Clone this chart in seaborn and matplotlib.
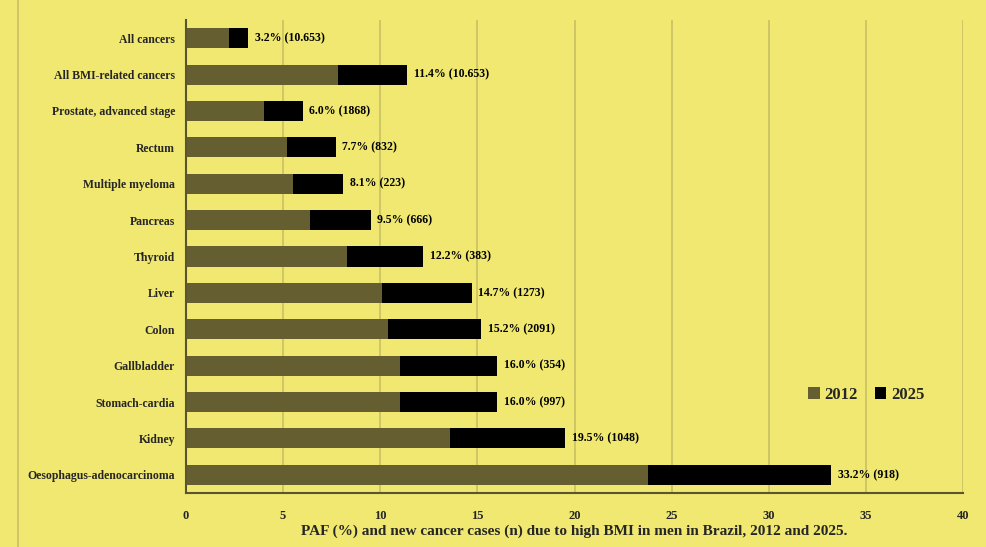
import pandas as pd
import seaborn as sns
import matplotlib.pyplot as plt

# Data
sites = ["All cancers", "All BMI-related cancers", "Prostate, advanced stage", "Rectum",
         "Multiple myeloma", "Pancreas", "Thyroid", "Liver", "Colon", "Gallbladder",
         "Stomach-cardia", "Kidney", "Oesophagus-adenocarcinoma"]
paf_2012 = [2.2, 7.8, 4.0, 5.2, 5.5, 6.4, 8.3, 10.1, 10.4, 11.0, 11.0, 13.6, 23.8]
paf_2025 = [3.2, 11.4, 6.0, 7.7, 8.1, 9.5, 12.2, 14.7, 15.2, 16.0, 16.0, 19.5, 33.2]
labels = ["3.2% (10.653)", "11.4% (10.653)", "6.0% (1868)", "7.7% (832)", "8.1% (223)",
          "9.5% (666)", "12.2% (383)", "14.7% (1273)", "15.2% (2091)", "16.0% (354)",
          "16.0% (997)", "19.5% (1048)", "33.2% (918)"]

df = pd.DataFrame({"site": sites, "y2012": paf_2012, "y2025": paf_2025})

BG = "#f0e870"
OLIVE = "#655e30"
GRID = "#c9c163"

sns.set_style("white")
plt.rcParams['font.family'] = ['Liberation Serif', 'DejaVu Serif']
plt.rcParams['font.weight'] = 'bold'

fig = plt.figure(figsize=(9.86, 5.47), dpi=100, facecolor=BG)
ax = fig.add_axes([186 / 986, 1 - 493 / 547, (963 - 186) / 986, (493 - 20) / 547])
ax.set_facecolor(BG)

sns.barplot(data=df, y="site", x="y2025", color="black", width=0.55,
            saturation=1, ax=ax, label="2025", zorder=3, linewidth=0, edgecolor="none")
sns.barplot(data=df, y="site", x="y2012", color=OLIVE, width=0.55,
            saturation=1, ax=ax, label="2012", zorder=4, linewidth=0, edgecolor="none")

for i, (v, t) in enumerate(zip(paf_2025, labels)):
    ax.text(v + 0.35, i, t, va="center", ha="left", fontsize=8.5,
            fontweight="bold", color="black")

ax.set_xlim(0, 40)
ax.set_xticks(range(0, 41, 5))
ax.xaxis.grid(True, color=GRID, lw=1.2, zorder=0)
ax.set_axisbelow(True)
ax.tick_params(axis="x", length=0, pad=12, labelsize=9)
ax.tick_params(axis="y", length=0, pad=8, labelsize=8.5)
for lab in ax.get_xticklabels() + ax.get_yticklabels():
    lab.set_fontweight("bold")
ax.set_ylabel("")
ax.set_xlabel("PAF (%) and new cancer cases (n) due to high BMI in men in Brazil, 2012 and 2025.",
              fontsize=11, fontweight="bold", labelpad=2)

for s in ["top", "right"]:
    ax.spines[s].set_visible(False)
for s in ["left", "bottom"]:
    ax.spines[s].set_color("#5a5530")
    ax.spines[s].set_linewidth(1.5)
    ax.spines[s].set_zorder(5)

handles, hl = ax.get_legend_handles_labels()
order = [hl.index("2012"), hl.index("2025")]
ax.legend([handles[i] for i in order], ["2012", "2025"], loc="center left",
          bbox_to_anchor=(0.781, 0.208), ncol=2, frameon=False,
          prop={"size": 12, "weight": "bold"}, handlelength=0.7, handleheight=0.7,
          handletextpad=0.3, columnspacing=1.0)

fig.add_artist(plt.Line2D([18 / 986, 18 / 986], [0, 1], color=GRID, lw=1.2))

plt.savefig("out.png", dpi=100, facecolor=BG)
